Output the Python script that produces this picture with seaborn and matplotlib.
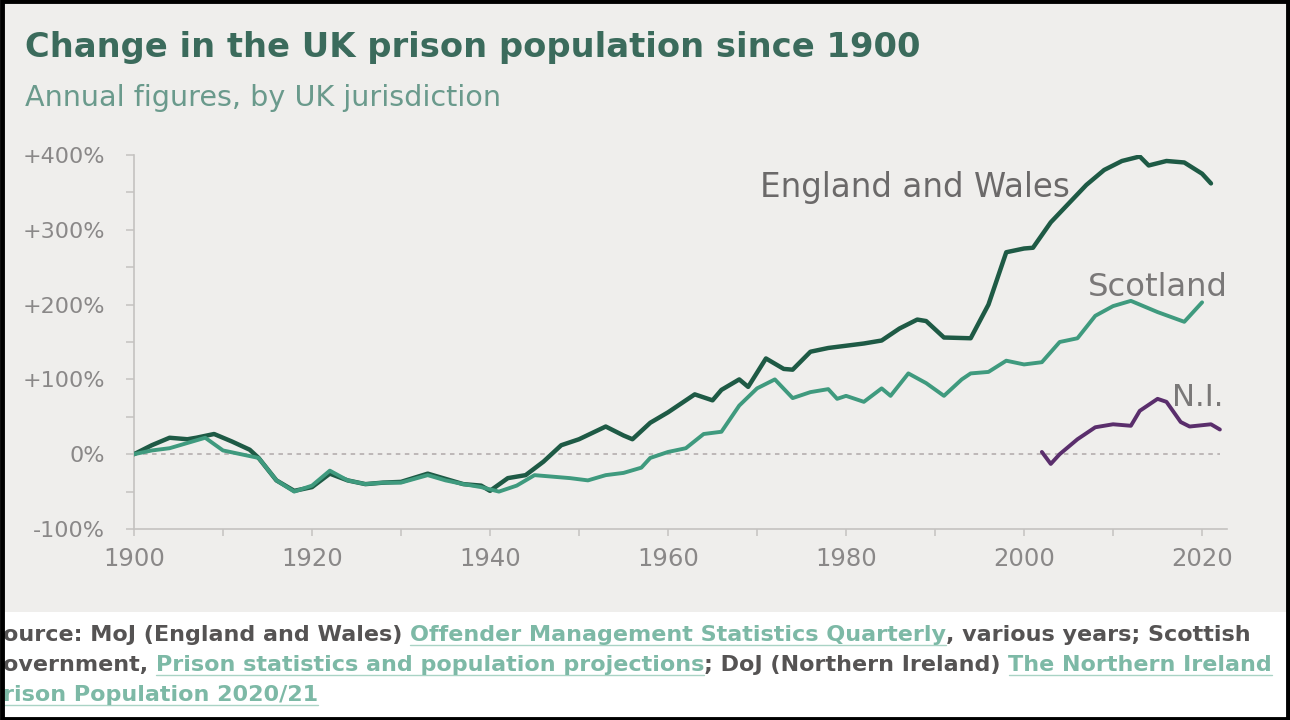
import numpy as np
import pandas as pd
import matplotlib
matplotlib.use("Agg")
import matplotlib.pyplot as plt
import seaborn as sns
from matplotlib.patches import Rectangle

# ---------------- data ----------------
ew_years = [1900, 1902, 1904, 1906, 1907, 1909, 1911, 1913, 1914, 1916, 1918, 1920,
            1922, 1924, 1926, 1928, 1930, 1933, 1935, 1937, 1939, 1940, 1942, 1944,
            1946, 1948, 1950, 1953, 1955, 1956, 1958, 1960, 1963, 1965, 1966, 1968,
            1969, 1971, 1973, 1974, 1976, 1978, 1980, 1982, 1984, 1986, 1988, 1989,
            1991, 1994, 1996, 1998, 2000, 2001, 2003, 2005, 2007, 2009, 2011, 2013,
            2014, 2016, 2018, 2020, 2021]
ew_values = [0, 12, 22, 20, 22, 27, 17, 6, -5, -35, -49, -44,
             -26, -35, -40, -38, -37, -26, -33, -40, -42, -49, -32, -28,
             -10, 12, 20, 37, 25, 20, 42, 56, 80, 72, 86, 100,
             90, 128, 114, 113, 137, 142, 145, 148, 152, 168, 180, 178,
             156, 155, 200, 270, 275, 276, 310, 335, 360, 380, 392, 398,
             386, 392, 390, 375, 362]

sc_years = [1900, 1902, 1904, 1906, 1908, 1910, 1912, 1914, 1916, 1918, 1920, 1922,
            1924, 1926, 1928, 1930, 1933, 1935, 1937, 1939, 1941, 1943, 1945, 1947,
            1949, 1951, 1953, 1955, 1957, 1958, 1960, 1962, 1964, 1966, 1968, 1970,
            1972, 1974, 1976, 1978, 1979, 1980, 1982, 1984, 1985, 1987, 1989, 1991,
            1993, 1994, 1996, 1998, 2000, 2002, 2004, 2006, 2008, 2010, 2012, 2015,
            2018, 2020]
sc_values = [0, 5, 8, 15, 22, 5, 0, -5, -35, -50, -42, -22,
             -35, -40, -38, -38, -28, -35, -40, -44, -50, -42, -28, -30,
             -32, -35, -28, -25, -18, -5, 3, 8, 27, 30, 65, 88,
             100, 75, 83, 87, 74, 78, 70, 88, 78, 108, 95, 78,
             100, 108, 110, 125, 120, 123, 150, 155, 185, 198, 205, 190,
             177, 203]

ni_years = [2002, 2003, 2004, 2006, 2008, 2010, 2012, 2013, 2015, 2016, 2017.6,
            2018.6, 2021, 2022]
ni_values = [3, -13, 0, 20, 36, 40, 38, 58, 74, 70, 43, 37, 40, 33]

series_names = ["England and Wales", "Scotland", "N.I."]
y_ticks = [-100, 0, 100, 200, 300, 400]
y_tick_labels = ["-100%", "0%", "+100%", "+200%", "+300%", "+400%"]
x_ticks = [1900, 1920, 1940, 1960, 1980, 2000, 2020]

title = "Change in the UK prison population since 1900"
subtitle = "Annual figures, by UK jurisdiction"

df = pd.concat([
    pd.DataFrame({"year": ew_years, "pct": ew_values, "series": series_names[0]}),
    pd.DataFrame({"year": sc_years, "pct": sc_values, "series": series_names[1]}),
    pd.DataFrame({"year": ni_years, "pct": ni_values, "series": series_names[2]}),
])

# ---------------- style ----------------
sns.set_theme(style="white")
plt.rcParams["font.family"] = ["DejaVu Sans"]

W, H = 1290, 720
BG = "#efeeec"
fig = plt.figure(figsize=(W / 100, H / 100), dpi=100)
fig.patch.set_facecolor("white")
fig.patches.append(Rectangle((0, 1 - 612 / H), 1, 612 / H, transform=fig.transFigure,
                             facecolor=BG, edgecolor="none", zorder=-10))

def px(x0, y0, x1, y1):
    return [x0 / W, 1 - y1 / H, (x1 - x0) / W, (y1 - y0) / H]

ax = fig.add_axes(px(134, 155, 1227, 529))
ax.set_facecolor(BG)

palette = {"England and Wales": "#1e5a45", "Scotland": "#3f9a7e", "N.I.": "#5a2e6c"}
widths = {"England and Wales": 3.2, "Scotland": 2.8, "N.I.": 2.8}

# zero reference line
ax.plot([1900, 2022], [0, 0], color="#b9b3b3", lw=1.3, ls=(0, (2.5, 2.5)), zorder=1)

for name in series_names:
    sub = df[df["series"] == name]
    sns.lineplot(data=sub, x="year", y="pct", color=palette[name], lw=widths[name],
                 estimator=None, sort=True, ax=ax, zorder=3)

ax.set_xlim(1900, 2022.8)
ax.set_ylim(-100, 400)
ax.set_xlabel("")
ax.set_ylabel("")

ax.set_yticks(y_ticks)
ax.set_yticklabels(y_tick_labels)
ax.set_yticks(np.arange(-100, 401, 50), minor=True)
ax.set_xticks(x_ticks)
ax.set_xticklabels([str(t) for t in x_ticks])
ax.set_xticks(np.arange(1900, 2021, 10), minor=True)

for s in ["top", "right"]:
    ax.spines[s].set_visible(False)
for s in ["left", "bottom"]:
    ax.spines[s].set_color("#c4c2c0")
    ax.spines[s].set_linewidth(1.2)

ax.tick_params(axis="y", which="both", direction="out", length=6, width=1.1,
               color="#c4c2c0", labelcolor="#8a8888", labelsize=16, pad=15, left=True)
ax.tick_params(axis="x", which="both", direction="out", length=5, width=1.1,
               color="#c4c2c0", labelcolor="#8a8888", labelsize=17.5, pad=8, bottom=True)

# series labels
renderer = fig.canvas.get_renderer()

def fit_text(x_px, y_px, s, width_px, ha="left", va="center", **kw):
    t = fig.text(x_px / W, 1 - y_px / H, s, ha=ha, va=va, fontsize=20, **kw)
    w = t.get_window_extent(renderer).width
    t.set_fontsize(20 * width_px / w)
    return t

fit_text(760, 187, "England and Wales", 310, color="#6b6969")
fit_text(1088, 287, "Scotland", 140, color="#7a7878")
fit_text(1172, 398, "N.I.", 52, color="#7a7878")

# title & subtitle
fit_text(25, 48, title, 893, color="#3b6b5c", fontweight="bold")
fit_text(25, 98, subtitle, 475, color="#6a9a8c")

# source text with links
DARK = "#555353"
LINK = "#7db9a6"

line1 = [("ource: MoJ (England and Wales) ", DARK, False),
         ("Offender Management Statistics Quarterly", LINK, True),
         (", various years; Scottish", DARK, False)]
line2 = [("overnment, ", DARK, False),
         ("Prison statistics and population projections", LINK, True),
         ("; DoJ (Northern Ireland) ", DARK, False),
         ("The Northern Ireland", LINK, True)]
line3 = [("rison Population 2020/21", LINK, True)]

def line_width(parts, size):
    total = 0
    for s, col, link in parts:
        t = fig.text(0, 0, s, fontsize=size, fontweight="bold")
        total += t.get_window_extent(renderer).width
        t.remove()
    return total

def rich_line(x_px, y_px, parts, size):
    x = x_px
    for s, col, link in parts:
        t = fig.text(x / W, 1 - y_px / H, s, ha="left", va="center", fontsize=size,
                     color=col, fontweight="bold")
        bb = t.get_window_extent(renderer)
        if link:
            fig.lines.append(plt.Line2D([x / W, (x + bb.width) / W],
                                        [1 - (y_px + 10) / H, 1 - (y_px + 10) / H],
                                        transform=fig.transFigure, color="#a9d3c5", lw=1.0))
        x += bb.width

src_size = 12 * (1240 / line_width(line1, 12))
rich_line(3, 635, line1, src_size)
rich_line(3, 665, line2, src_size)
rich_line(3, 695, line3, src_size)

# black frame around the picture
fig.patches.append(Rectangle((0.0015, 0.002), 0.997, 0.996, transform=fig.transFigure,
                             facecolor="none", edgecolor="black", lw=3.5, zorder=20))

fig.savefig("out.png", dpi=100, facecolor=fig.get_facecolor())
